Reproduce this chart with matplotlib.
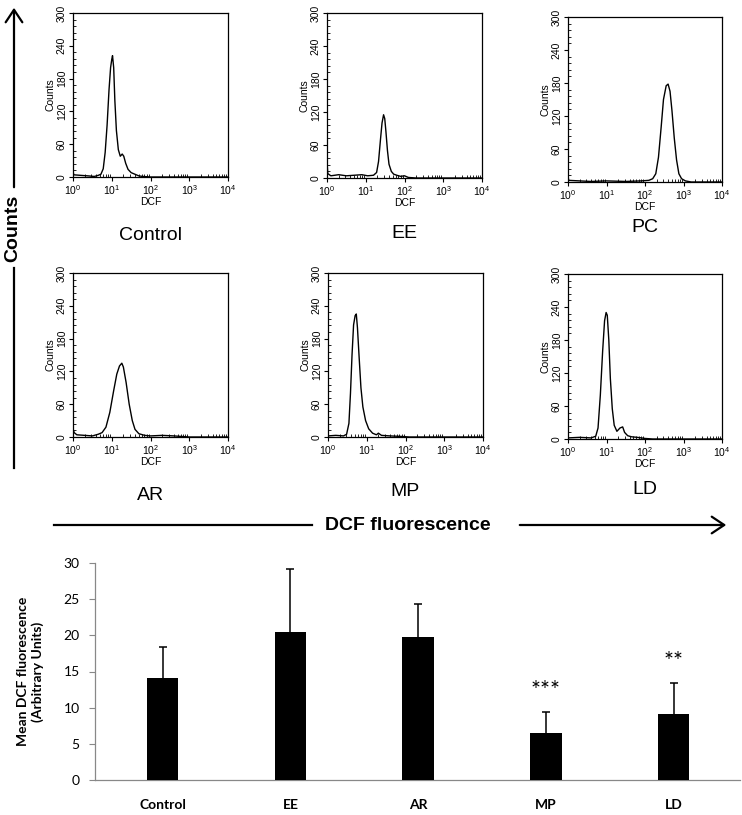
import numpy as np
import matplotlib
matplotlib.use("Agg")
import matplotlib.pyplot as plt
from matplotlib.ticker import MultipleLocator, LogLocator, NullFormatter

plt.rcParams['font.family'] = ['Liberation Sans', 'DejaVu Sans']
plt.rcParams['mathtext.default'] = 'regular'

W, H = 742, 815

# flow cytometry histograms: (log10 DCF, counts)
panel_names = ["Control", "EE", "PC", "AR", "MP", "LD"]
control_x = [0.0, 0.02, 0.2, 0.4, 0.55, 0.65, 0.72, 0.78, 0.83, 0.88, 0.93, 0.97, 1.0, 1.02, 1.05, 1.08,
             1.12, 1.17, 1.22, 1.27, 1.31, 1.36, 1.42, 1.5, 1.6, 1.7, 1.8, 2.0, 4.0]
control_y = [10, 4, 3, 2, 1, 3, 5, 15, 45, 95, 160, 200, 215, 222, 200, 140,
             85, 50, 38, 42, 38, 25, 14, 8, 5, 2, 1, 0, 0]
ee_x = [0.0, 0.02, 0.1, 0.3, 0.5, 0.7, 0.9, 1.05, 1.2, 1.28, 1.33, 1.38, 1.42, 1.46, 1.49, 1.52,
        1.56, 1.6, 1.66, 1.72, 1.8, 1.9, 2.0, 2.1, 2.3, 4.0]
ee_y = [30, 8, 4, 6, 4, 5, 6, 4, 5, 10, 30, 70, 100, 115, 108, 85,
        50, 25, 12, 7, 5, 3, 4, 1, 0, 0]
pc_x = [0.0, 0.02, 0.3, 0.6, 1.0, 1.5, 1.9, 2.1, 2.2, 2.28, 2.35, 2.42, 2.48, 2.55, 2.6, 2.65,
        2.7, 2.76, 2.82, 2.88, 2.95, 3.05, 3.2, 4.0]
pc_y = [10, 3, 2, 1, 2, 1, 2, 3, 6, 15, 45, 100, 150, 175, 178, 165,
        130, 80, 40, 15, 6, 2, 0, 0]
ar_x = [0.0, 0.03, 0.1, 0.3, 0.5, 0.65, 0.75, 0.85, 0.95, 1.05, 1.13, 1.2, 1.26, 1.3, 1.37, 1.45,
        1.53, 1.6, 1.7, 1.85, 2.0, 2.3, 2.6, 3.0, 4.0]
ar_y = [15, 8, 4, 3, 2, 5, 8, 18, 45, 85, 115, 130, 135, 128, 100, 60,
        30, 14, 6, 3, 2, 3, 2, 0, 0]
mp_x = [0.0, 0.2, 0.4, 0.48, 0.54, 0.58, 0.62, 0.66, 0.7, 0.73, 0.76, 0.8, 0.85, 0.9, 0.97, 1.05,
        1.15, 1.25, 1.3, 1.38, 1.6, 1.9, 2.1, 4.0]
mp_y = [2, 3, 2, 5, 25, 80, 150, 205, 222, 225, 200, 150, 90, 55, 30, 15,
        7, 4, 7, 3, 2, 1, 0, 0]
ld_x = [0.0, 0.3, 0.6, 0.72, 0.78, 0.84, 0.9, 0.95, 0.99, 1.02, 1.06, 1.1, 1.15, 1.2, 1.27, 1.35,
        1.42, 1.47, 1.55, 1.65, 1.8, 2.0, 2.2, 4.0]
ld_y = [2, 3, 2, 5, 20, 80, 160, 215, 230, 225, 180, 110, 55, 25, 14, 20,
        22, 12, 6, 4, 3, 1, 0, 0]
hist_x = [control_x, ee_x, pc_x, ar_x, mp_x, ld_x]
hist_y = [control_y, ee_y, pc_y, ar_y, mp_y, ld_y]

# bar chart
groups = ["Control", "EE", "AR", "MP", "LD"]
means = [14.1, 20.5, 19.8, 6.5, 9.1]
errors = [4.3, 8.7, 4.5, 2.9, 4.3]
stars = ["", "", "", "***", "**"]


def px_axes(fig, left, top, right, bottom):
    return fig.add_axes([left / W, 1 - bottom / H, (right - left) / W, (bottom - top) / H])


fig = plt.figure(figsize=(W / 100, H / 100), dpi=100)

boxes = [(73, 13, 228, 177), (327, 13, 482, 178), (568, 17, 722, 182),
         (73, 273, 228, 437), (328, 273, 483, 437), (568, 274, 722, 439)]
label_y = [235, 233, 228, 495, 492, 490]
for name, box, ly, xs, ys in zip(panel_names, boxes, label_y, hist_x, hist_y):
    ax = px_axes(fig, *box)
    ax.plot(10 ** np.array(xs), ys, color="black", lw=1.0)
    ax.set_xscale("log")
    ax.set_xlim(1, 1e4)
    ax.set_ylim(0, 300)
    ax.yaxis.set_major_locator(MultipleLocator(60))
    ax.yaxis.set_minor_locator(MultipleLocator(12))
    ax.xaxis.set_major_locator(LogLocator(base=10, numticks=10))
    ax.xaxis.set_minor_locator(LogLocator(base=10, subs=np.arange(2, 10), numticks=10))
    ax.xaxis.set_minor_formatter(NullFormatter())
    for lab in ax.get_yticklabels():
        lab.set_rotation(90)
        lab.set_va("center")
    ax.tick_params(which="major", direction="out", length=3, width=0.8, labelsize=7.5, pad=1.5)
    ax.tick_params(which="minor", direction="in", length=2.5, width=0.6)
    ax.set_xlabel("DCF", fontsize=7.5, labelpad=0)
    ax.set_ylabel("Counts", fontsize=7.5, labelpad=1)
    for s in ax.spines.values():
        s.set_linewidth(0.9)
    cx = (box[0] + box[2]) / 2
    fig.text(cx / W, 1 - ly / H, name, ha="center", va="center", fontsize=14)

# "Counts" arrow on the left
fig.add_artist(matplotlib.patches.FancyArrowPatch((14, H - 190), (14, H - 5), transform=None,
                                                  arrowstyle="->,head_length=6,head_width=4",
                                                  lw=1.6, color="black", mutation_scale=1.5))
fig.add_artist(matplotlib.lines.Line2D([14 / W, 14 / W], [1 - 268 / H, 1 - 468 / H],
                                       color="black", lw=1.6))
fig.text(13 / W, 1 - 228 / H, "Counts", rotation=90, ha="center", va="center",
         fontsize=14, fontweight="bold")

# "DCF fluorescence" arrow
fig.add_artist(matplotlib.lines.Line2D([54 / W, 312 / W], [1 - 525 / H, 1 - 525 / H],
                                       color="black", lw=1.6))
fig.add_artist(matplotlib.patches.FancyArrowPatch((517, H - 525), (729, H - 525), transform=None,
                                                  arrowstyle="->,head_length=6,head_width=4",
                                                  lw=1.6, color="black", mutation_scale=1.5))
fig.text(408 / W, 1 - 525 / H, "DCF fluorescence", ha="center", va="center",
         fontsize=14, fontweight="bold")

# mean fluorescence bar chart
ax = px_axes(fig, 95, 563, 740, 780)
pos = np.arange(len(groups))
ax.bar(pos, means, width=0.245, color="black", zorder=3)
eb = ax.errorbar(pos, means, yerr=[np.zeros(len(means)), errors], fmt="none",
                 ecolor="black", elinewidth=1.1, capsize=3, capthick=1.1, zorder=2)
eb[1][0].set_visible(False)  # no cap on the bar top
for p, m, e, s in zip(pos, means, errors, stars):
    if s:
        ax.text(p, m + e + 3.0, s, ha="center", va="center", fontsize=17, family="Lato")
ax.set_xlim(-0.53, 4.52)
ax.set_ylim(0, 30)
ax.yaxis.set_major_locator(MultipleLocator(5))
ax.set_xticks(pos)
ax.set_xticklabels(groups, fontweight="bold", family="Lato", fontsize=10)
ax.tick_params(axis="x", length=0, pad=14)
ax.tick_params(axis="y", length=4, width=0.8, color="#888888", labelsize=10, pad=7)
for lab in ax.get_yticklabels():
    lab.set_family("Lato")
for side in ("top", "right"):
    ax.spines[side].set_visible(False)
for side in ("left", "bottom"):
    ax.spines[side].set_color("#888888")
    ax.spines[side].set_linewidth(0.9)
ax.set_ylabel("Mean DCF fluorescence\n(Arbitrary Units)", fontsize=10, fontweight="bold",
              family="Lato", labelpad=14, linespacing=1.2)

fig.savefig("out.png", dpi=100)
